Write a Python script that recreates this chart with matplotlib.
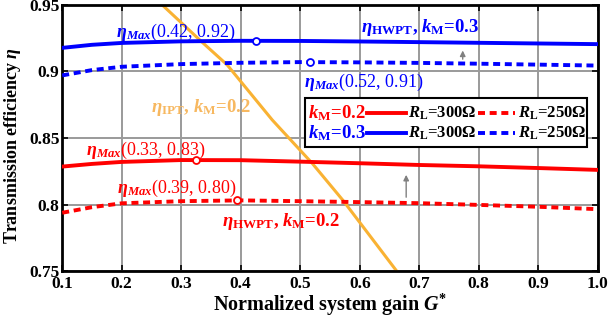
import matplotlib

matplotlib.use("Agg")
import matplotlib.pyplot as plt
from matplotlib.patches import Rectangle

plt.rcParams.update({
    "font.family": "Liberation Serif",
    "font.weight": "bold",
    "mathtext.fontset": "custom",
    "mathtext.rm": "Liberation Serif",
    "mathtext.it": "Liberation Serif:italic",
    "mathtext.bf": "Liberation Serif:bold",
    "mathtext.bfit": "Liberation Serif:italic:bold",
})

# normalized system gain G* and efficiency curves
g_hwpt = [0.1, 0.15, 0.2, 0.3, 0.4, 0.5, 0.6, 0.7, 0.8, 0.9, 1.0]
eta_k3_300 = [0.9177, 0.9200, 0.9214, 0.9226, 0.9230, 0.9229, 0.9225, 0.9220, 0.9215, 0.9210, 0.9205]
eta_k3_250 = [0.8970, 0.9010, 0.9035, 0.9055, 0.9065, 0.9070, 0.9068, 0.9064, 0.9058, 0.9051, 0.9044]
eta_k2_300 = [0.8285, 0.8305, 0.8320, 0.8334, 0.8333, 0.8322, 0.8310, 0.8297, 0.8287, 0.8274, 0.8260]
eta_k2_250 = [0.7938, 0.7980, 0.8009, 0.8025, 0.8031, 0.8025, 0.8018, 0.8010, 0.7997, 0.7983, 0.7965]

# IPT reference curve (k_M = 0.2)
g_ipt = [0.268, 0.335, 0.377, 0.453, 0.520, 0.572, 0.662]
eta_ipt = [0.95, 0.922, 0.905, 0.8635, 0.831, 0.803, 0.75]

# maximum-efficiency points
max_g = [0.425, 0.516, 0.325, 0.393]
max_eta = [0.923, 0.907, 0.8335, 0.8032]
max_labels = ["(0.42, 0.92)", "(0.52, 0.91)", "(0.33, 0.83)", "(0.39, 0.80)"]

RED = "#ff0000"
BLUE = "#0000ff"
ORANGE = "#f9b233"
DASH = (1.8, 1.2)

fig = plt.figure(figsize=(6.1, 3.25), dpi=100)
ax = fig.add_axes([0.102, 0.166, 0.878, 0.819])

ax.plot(g_ipt, eta_ipt, color=ORANGE, lw=2.2, zorder=2)
ax.plot(g_hwpt, eta_k3_300, color=BLUE, lw=2.8, zorder=3)
ax.plot(g_hwpt, eta_k3_250, color=BLUE, lw=2.8, ls=(0, DASH), zorder=3)
ax.plot(g_hwpt, eta_k2_300, color=RED, lw=2.8, zorder=3)
ax.plot(g_hwpt, eta_k2_250, color=RED, lw=2.8, ls=(0, DASH), zorder=3)

for g, e, c in zip(max_g, max_eta, [BLUE, BLUE, RED, RED]):
    ax.plot([g], [e], "o", ms=5, mfc="white", mec=c, mew=1.3, zorder=4)

# load-change arrows (250 -> 300 ohm)
ax.annotate("", xy=(0.773, 0.9178), xytext=(0.773, 0.9071),
            arrowprops=dict(arrowstyle="-|>", color="#808080", lw=1, mutation_scale=8))
ax.annotate("", xy=(0.678, 0.8244), xytext=(0.678, 0.8034),
            arrowprops=dict(arrowstyle="-|>", color="#808080", lw=1, mutation_scale=8))

eta_max = r"$\mathbfit{\eta}_{\mathbfit{Max}}$"
kw = dict(fontsize=13, fontweight="normal", va="center", ha="left")
ax.text(0.190, 0.929, eta_max + max_labels[0], color=BLUE, **kw)
ax.text(0.506, 0.8914, eta_max + max_labels[1], color=BLUE, **kw)
ax.text(0.140, 0.841, eta_max + max_labels[2], color=RED, **kw)
ax.text(0.192, 0.8124, eta_max + max_labels[3], color=RED, **kw)

bkw = dict(fontsize=13.5, fontweight="bold", va="center", ha="left")
ax.text(0.602, 0.9327, r"$\mathbfit{\eta}_{\mathbf{HWPT}}$, $\mathbfit{k}_{\mathbf{M}}$=0.3",
        color=BLUE, **bkw)
ax.text(0.368, 0.787, r"$\mathbfit{\eta}_{\mathbf{HWPT}}$, $\mathbfit{k}_{\mathbf{M}}$=0.2",
        color=RED, **bkw)
ax.text(0.249, 0.8726, r"$\mathbfit{\eta}_{\mathbf{IPT}}$, $\mathbfit{k}_{\mathbf{M}}$=0.2",
        color="#f7b860", **bkw)

# hand-built legend box
T = ax.transAxes
ax.add_patch(Rectangle((0.453, 0.466), 0.526, 0.184, transform=T, fc="white",
                       ec="black", lw=1.5, zorder=5))
for yy, c, lab in [(0.594, RED, "0.2"), (0.519, BLUE, "0.3")]:
    ax.text(0.459, yy, r"$\mathbfit{k}_{\mathbf{M}}$=" + lab, transform=T, color=c,
            fontsize=13.5, fontweight="bold", va="center", ha="left", zorder=6)
    ax.plot([0.569, 0.642], [yy, yy], transform=T, color=c, lw=2.8, zorder=6)
    ax.text(0.645, yy, r"$\mathbfit{R}_{\mathbf{L}}$=300Ω", transform=T, color="black",
            fontsize=12, fontweight="bold", va="center", ha="left", zorder=6)
    ax.plot([0.776, 0.846], [yy, yy], transform=T, color=c, lw=2.8, ls=(0, DASH), zorder=6)
    ax.text(0.851, yy, r"$\mathbfit{R}_{\mathbf{L}}$=250Ω", transform=T, color="black",
            fontsize=12, fontweight="bold", va="center", ha="left", zorder=6)

ax.set_xlim(0.1, 1.0)
ax.set_ylim(0.75, 0.95)
ax.set_xticks([0.1, 0.2, 0.3, 0.4, 0.5, 0.6, 0.7, 0.8, 0.9, 1.0])
ax.set_xticklabels(["0.1", "0.2", "0.3", "0.4", "0.5", "0.6", "0.7", "0.8", "0.9", "1.0"])
ax.set_yticks([0.75, 0.8, 0.85, 0.9, 0.95])
ax.set_yticklabels(["0.75", "0.8", "0.85", "0.9", "0.95"])
ax.tick_params(direction="in", length=4, width=1.2, top=True, right=True,
               labelsize=12.5, pad=2)
ax.tick_params(axis="x", pad=3.5)
for lab in ax.get_xticklabels() + ax.get_yticklabels():
    lab.set_fontweight("bold")
ax.grid(True, color="#9a9a9a", lw=1.4)
ax.set_axisbelow(True)
for s in ax.spines.values():
    s.set_linewidth(2)

ax.set_xlabel(r"Normalized system gain $\mathbfit{G}^{*}$", fontsize=14.5, fontweight="bold",
              labelpad=0)
ax.set_ylabel(r"Transmission efficiency $\mathbfit{\eta}$", fontsize=13, fontweight="bold")
ax.yaxis.set_label_coords(-0.074, 0.47)

fig.savefig("out.png", dpi=100)
